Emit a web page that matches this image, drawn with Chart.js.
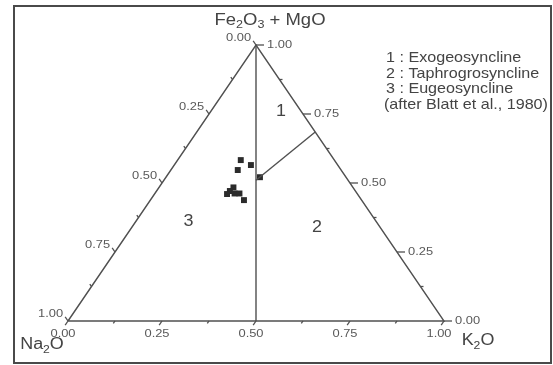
<!DOCTYPE html>
<html>
<head>
<meta charset="utf-8">
<script src="https://cdn.jsdelivr.net/npm/chart.js@4/dist/chart.umd.min.js"></script>
<style>
  html, body { margin: 0; padding: 0; background: #ffffff; }
  canvas { display: block; }
</style>
</head>
<body>
<canvas id="chart" width="553" height="365"></canvas>
<script>
// Sample compositions, as fractions of Na2O + K2O + (Fe2O3 + MgO)
const sampleNa2O = [0.249, 0.231, 0.275, 0.229, 0.318, 0.334, 0.347, 0.326, 0.313, 0.313];
const sampleK2O  = [0.168, 0.204, 0.178, 0.250, 0.198, 0.195, 0.193, 0.212, 0.225, 0.249];
const sampleFeMg = [0.583, 0.565, 0.547, 0.521, 0.484, 0.471, 0.460, 0.462, 0.462, 0.438];

// Axis ticks shared by the three sides
const tickValues = [0, 0.25, 0.5, 0.75, 1];
const tickLabels = ['0.00', '0.25', '0.50', '0.75', '1.00'];
const minorTickValues = [0.125, 0.375, 0.625, 0.875];

// Field boundaries (Na2O, K2O, Fe2O3+MgO)
const boundaryMedianNa = [0.0, 0.5];
const boundaryMedianK  = [0.0, 0.5];
const boundaryMedianFe = [1.0, 0.0];
const boundaryBranchNa = [0.245, 0.0];
const boundaryBranchK  = [0.245, 0.315];
const boundaryBranchFe = [0.510, 0.685];

// Field numbers and where they sit
const fieldNames = ['1', '2', '3'];
const fieldNa = [0.055, 0.169, 0.500];
const fieldK  = [0.188, 0.494, 0.141];
const fieldFe = [0.757, 0.337, 0.359];

const legendLines = [
  '1 : Exogeosyncline',
  '2 : Taphrogrosyncline',
  '3 : Eugeosyncline',
  '(after Blatt et al., 1980)'
];

// Ternary (Na, K, Fe) -> planar coordinates: base runs Na2O (0) to K2O (1), apex is Fe2O3+MgO
function toXY(na, k, fe) {
  return { x: k + fe / 2, y: fe };
}

const triangle = [toXY(1, 0, 0), toXY(0, 1, 0), toXY(0, 0, 1), toXY(1, 0, 0)];
const medianLine = boundaryMedianNa.map((v, i) => toXY(v, boundaryMedianK[i], boundaryMedianFe[i]));
const branchLine = boundaryBranchNa.map((v, i) => toXY(v, boundaryBranchK[i], boundaryBranchFe[i]));
const samples = sampleNa2O.map((v, i) => toXY(v, sampleK2O[i], sampleFeMg[i]));

const FONT = '"Liberation Sans", Arial, sans-serif';
const STRETCH = 1.12;
const LINE = '#505050';

// Draws a run of [text, isSubscript] pieces with a slight horizontal stretch
function drawRich(ctx, pieces, x, y, size, align, color) {
  const subSize = size * 0.68;
  let total = 0;
  const widths = pieces.map(([t, sub]) => {
    ctx.font = (sub ? subSize : size) + 'px ' + FONT;
    const w = ctx.measureText(t).width * STRETCH;
    total += w;
    return w;
  });
  let cx = align === 'center' ? x - total / 2 : align === 'right' ? x - total : x;
  ctx.save();
  ctx.fillStyle = color;
  ctx.textBaseline = 'middle';
  ctx.textAlign = 'left';
  pieces.forEach(([t, sub], i) => {
    ctx.font = (sub ? subSize : size) + 'px ' + FONT;
    ctx.save();
    ctx.translate(cx, y + (sub ? size * 0.32 : 0));
    ctx.scale(STRETCH, 1);
    ctx.fillText(t, 0, 0);
    ctx.restore();
    cx += widths[i];
  });
  ctx.restore();
}

const ternaryDecor = {
  id: 'ternaryDecor',
  afterDatasetsDraw(chart) {
    const ctx = chart.ctx;
    const xs = chart.scales.x, ys = chart.scales.y;
    const px = (p) => ({ x: xs.getPixelForValue(p.x), y: ys.getPixelForValue(p.y) });

    const left = px(toXY(1, 0, 0));
    const right = px(toXY(0, 1, 0));
    const apex = px(toXY(0, 0, 1));
    const unit = (a, b) => { const dx = b.x - a.x, dy = b.y - a.y, l = Math.hypot(dx, dy); return { x: dx / l, y: dy / l }; };
    const dirLeft = unit(right, apex);   // ticks on the Na2O side
    const dirBase = unit(apex, left);    // ticks on the K2O side
    const dirRight = { x: 1, y: 0 };     // ticks on the Fe2O3+MgO side

    const tick = (p, d, len) => {
      ctx.beginPath();
      ctx.moveTo(p.x, p.y);
      ctx.lineTo(p.x + d.x * len, p.y + d.y * len);
      ctx.stroke();
    };

    ctx.save();
    ctx.strokeStyle = LINE;
    ctx.lineWidth = 1.3;
    minorTickValues.forEach(v => {
      tick(px(toXY(v, 0, 1 - v)), dirLeft, 3);
      tick(px(toXY(1 - v, v, 0)), dirBase, 3);
      tick(px(toXY(0, 1 - v, v)), dirRight, 3);
    });
    tickValues.forEach((v, i) => {
      const lab = tickLabels[i];
      // Na2O side
      const pl = px(toXY(v, 0, 1 - v));
      tick(pl, dirLeft, 5);
      drawRich(ctx, [[lab, false]], pl.x + dirLeft.x * 5 - 2, pl.y + dirLeft.y * 5 - 3, 11.5, 'right', '#595959');
      // K2O side
      const pb = px(toXY(1 - v, v, 0));
      tick(pb, dirBase, 5);
      drawRich(ctx, [[lab, false]], pb.x - 5, pb.y + 12.5, 11.5, 'center', '#595959');
      // Fe2O3+MgO side
      const pr = px(toXY(0, 1 - v, v));
      tick(pr, dirRight, 8);
      drawRich(ctx, [[lab, false]], pr.x + 11, pr.y, 11.5, 'left', '#595959');
    });
    ctx.restore();

    // Apex names
    drawRich(ctx, [['Fe', false], ['2', true], ['O', false], ['3', true], [' + MgO', false]],
      apex.x + 14, apex.y - 25, 16.5, 'center', '#444');
    drawRich(ctx, [['Na', false], ['2', true], ['O', false]], left.x - 26, left.y + 24, 16, 'center', '#444');
    drawRich(ctx, [['K', false], ['2', true], ['O', false]], right.x + 34, right.y + 20, 16, 'center', '#444');

    // Field numbers
    fieldNames.forEach((name, i) => {
      const p = px(toXY(fieldNa[i], fieldK[i], fieldFe[i]));
      drawRich(ctx, [[name, false]], p.x, p.y, 16, 'center', '#444');
    });

    // Key to the fields
    legendLines.forEach((t, i) => {
      drawRich(ctx, [[t, false]], i < 3 ? 386 : 384, 58 + i * 15.6, 14.4, 'left', '#444');
    });

    // Figure frame
    ctx.save();
    ctx.strokeStyle = '#4a4a4a';
    ctx.lineWidth = 2;
    ctx.strokeRect(14, 6, 537, 357);
    ctx.restore();
  }
};

const lineDs = (data) => ({
  type: 'line', data, showLine: true, borderColor: LINE, borderWidth: 1.4,
  pointRadius: 0, fill: false, tension: 0, clip: false
});

new Chart(document.getElementById('chart'), {
  type: 'scatter',
  data: {
    datasets: [
      lineDs(triangle),
      lineDs(medianLine),
      lineDs(branchLine),
      {
        data: samples, pointStyle: 'rect', pointRadius: 4.2,
        backgroundColor: '#2b2b2b', borderColor: '#2b2b2b', borderWidth: 0, clip: false
      }
    ]
  },
  options: {
    responsive: false,
    animation: false,
    devicePixelRatio: 1,
    layout: { padding: { left: 68, right: 109, top: 45, bottom: 44 } },
    scales: {
      x: { type: 'linear', min: 0, max: 1, display: false },
      y: { type: 'linear', min: 0, max: 1, display: false }
    },
    plugins: { legend: { display: false }, tooltip: { enabled: false } }
  },
  plugins: [ternaryDecor]
});
</script>
</body>
</html>
